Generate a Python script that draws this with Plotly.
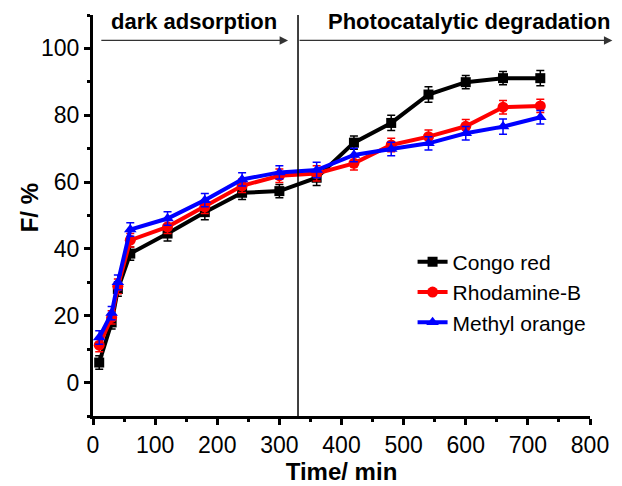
import plotly.graph_objects as go

# Sampling times (min)
time_min = [10, 30, 40, 60, 120, 180, 240, 300, 360, 420, 480, 540, 600, 660, 720]

# Removal efficiency F (%) for each dye
congo_red = [6.0, 18.0, 28.0, 38.6, 44.6, 51.0, 56.8, 57.3, 61.3, 71.8, 77.7, 86.2, 89.9, 91.1, 91.1]
rhodamine_b = [11.2, 19.5, 28.8, 42.6, 46.6, 52.6, 58.9, 61.9, 62.6, 65.6, 71.1, 73.6, 76.7, 82.4, 82.8]
methyl_orange = [13.5, 20.8, 30.0, 45.8, 49.1, 54.6, 60.8, 62.9, 63.6, 68.1, 69.9, 71.6, 74.6, 76.6, 79.4]

# Standard deviations (%)
congo_red_err = [2.0, 2.0, 2.2, 2.0, 2.2, 2.3, 2.0, 2.0, 2.3, 2.0, 2.3, 2.3, 2.0, 2.0, 2.3]
rhodamine_b_err = [2.0, 2.0, 2.2, 2.0, 2.0, 2.0, 2.0, 2.0, 2.3, 2.0, 2.0, 2.0, 2.0, 2.0, 2.0]
methyl_orange_err = [2.0, 2.0, 2.2, 2.0, 2.0, 2.0, 2.0, 2.0, 2.3, 2.0, 2.0, 2.0, 2.0, 2.3, 2.0]

# Time at which the light is switched on
light_on = 330

FONT = "Liberation Sans, Arial, sans-serif"

series = [
    ("Congo red", congo_red, congo_red_err, "#000000", "square", 10),
    ("Rhodamine-B", rhodamine_b, rhodamine_b_err, "#ff0000", "circle", 11),
    ("Methyl orange", methyl_orange, methyl_orange_err, "#0000ff", "triangle-up", 11),
]

fig = go.Figure()
for name, vals, errs, color, symbol, msize in series:
    fig.add_trace(go.Scatter(
        x=time_min, y=vals, name=name, mode="lines+markers",
        line=dict(color=color, width=4),
        marker=dict(symbol=symbol, size=msize, color=color),
        error_y=dict(type="data", array=errs, visible=True,
                     color=color, thickness=1.5, width=4),
    ))

# Divider between the dark and light stages
fig.add_shape(type="line", xref="x", yref="y",
              x0=light_on, x1=light_on, y0=-10, y1=111.5,
              line=dict(color="#000000", width=1.5))

# Stage arrows
arrow_y = 102.4
for x_start, x_end in [(11, 314), (330, 836)]:
    fig.add_annotation(x=x_end, y=arrow_y, ax=x_start, ay=arrow_y,
                       xref="x", yref="y", axref="x", ayref="y",
                       text="", showarrow=True, arrowhead=2, arrowsize=1.3,
                       arrowwidth=1.3, arrowcolor="#333333")

fig.add_annotation(x=163, y=103.8, xref="x", yref="y", text="<b>dark adsorption</b>",
                   showarrow=False, yanchor="bottom",
                   font=dict(family=FONT, size=22, color="#000000"))
fig.add_annotation(x=605, y=103.8, xref="x", yref="y", text="<b>Photocatalytic degradation</b>",
                   showarrow=False, yanchor="bottom",
                   font=dict(family=FONT, size=22, color="#000000"))

# Y-axis title, placed close to the tick labels
fig.add_annotation(x=-0.127, y=0.52, xref="paper", yref="paper", text="<b>F/ %</b>",
                   textangle=-90, showarrow=False, xanchor="center", yanchor="middle",
                   font=dict(family=FONT, size=24, color="#000000"))

axis_common = dict(
    showgrid=False, zeroline=False, showline=True, linecolor="#000000", linewidth=3,
    ticks="outside", ticklen=6, tickwidth=3, tickcolor="#000000",
    tickfont=dict(family=FONT, size=23, color="#000000"),
    mirror=False, automargin=False,
)

fig.update_xaxes(
    range=[0, 800], tick0=0, dtick=100,
    minor=dict(ticks="outside", dtick=50, ticklen=3, tickwidth=3, tickcolor="#000000"),
    title=dict(text="<b>Time/ min</b>", font=dict(family=FONT, size=24, color="#000000"), standoff=5),
    **axis_common,
)
fig.update_yaxes(
    range=[-10, 110], tick0=0, dtick=20,
    minor=dict(ticks="outside", dtick=10, ticklen=3, tickwidth=3, tickcolor="#000000"),
    **axis_common,
)

fig.update_layout(
    width=622, height=486,
    margin=dict(l=93, r=32, t=15, b=70),
    plot_bgcolor="#ffffff", paper_bgcolor="#ffffff",
    showlegend=True,
    legend=dict(x=0.643, y=0.435, xanchor="left", yanchor="top",
                bgcolor="rgba(0,0,0,0)", borderwidth=0,
                font=dict(family=FONT, size=21, color="#000000"),
                tracegroupgap=0, itemwidth=30),
)

fig.write_html("out.html")
